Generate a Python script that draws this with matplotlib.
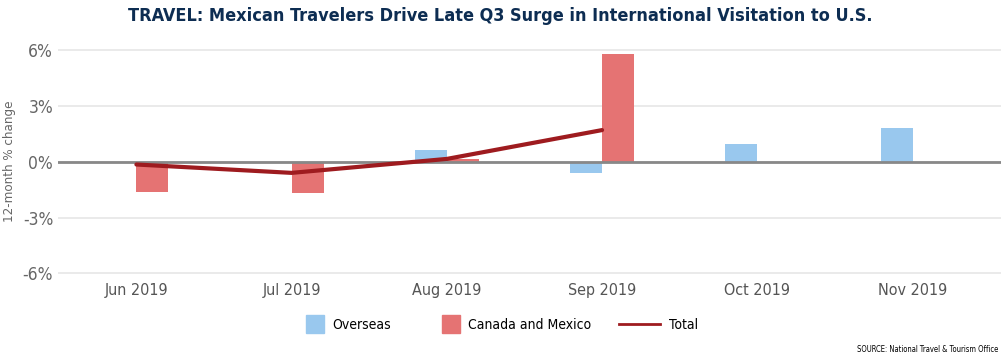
import numpy as np
import matplotlib
matplotlib.use('Agg')
import matplotlib.pyplot as plt
from matplotlib.patches import Patch, Rectangle
from matplotlib.lines import Line2D
from matplotlib.legend_handler import HandlerPatch

months = ['Jun 2019', 'Jul 2019', 'Aug 2019', 'Sep 2019', 'Oct 2019', 'Nov 2019']
overseas = [0.0, 0.0, 0.63, -0.61, 0.97, 1.80]
canada_mexico = [-1.61, -1.67, 0.16, 5.77, 0.0, 0.0]
total = [-0.15, -0.60, 0.15, 1.70]

c_over = '#99C8EE'
c_can = '#E57373'
c_tot = '#9E1B1F'
c_txt = '#666666'

plt.rcParams['font.family'] = ['DejaVu Sans']
plt.rcParams['font.stretch'] = 'condensed'

fig = plt.figure(figsize=(10.01, 3.61), dpi=100)
ax = fig.add_axes([58 / 1001, 0.2274, 1 - 58 / 1001, 0.8767 - 0.2274])

x = np.arange(len(months))
w = 0.206
ax.bar(x - w / 2, overseas, width=w, color=c_over, zorder=2)
ax.bar(x + w / 2, canada_mexico, width=w, color=c_can, zorder=2)
ax.axhline(0, color='#888888', lw=2, zorder=3)
ax.plot(x[:len(total)], total, color=c_tot, lw=3, solid_capstyle='round', zorder=4)

ax.set_xlim(-0.505, 5.57)
ax.set_ylim(-6.3, 6.3)
ax.set_yticks([-6, -3, 0, 3, 6])
ax.set_yticklabels(['-6%', '-3%', '0%', '3%', '6%'])
ax.set_xticks(x)
ax.set_xticklabels(months)
ax.tick_params(axis='y', length=0, labelsize=12.5, labelcolor=c_txt, pad=3.5)
ax.tick_params(axis='x', length=0, labelsize=11.5, labelcolor='#555555', pad=3)
ax.grid(axis='y', color='#e6e6e6', lw=1.2, zorder=0)
for s in ax.spines.values():
    s.set_visible(False)
ax.set_ylabel('12-month % change', fontsize=9.5, color=c_txt, labelpad=5)

fig.text(0.5, 0.955, 'TRAVEL: Mexican Travelers Drive Late Q3 Surge in International Visitation to U.S.',
         ha='center', va='center', fontsize=13, fontweight='bold', color='#0D2D52')


def square(legend, orig_handle, xdescent, ydescent, width, height, fontsize):
    s = 1.3 * fontsize
    return Rectangle((width - s - xdescent, height / 2 - s / 2 - ydescent), s, s)


handles = [Patch(color=c_over, label='Overseas'),
           Patch(color=c_can, label='Canada and Mexico'),
           Line2D([], [], color=c_tot, lw=2, label='Total')]
fig.legend(handles=handles, loc='center', bbox_to_anchor=(0.49, 0.1), ncol=3, frameon=False,
           fontsize=10, handlelength=2.95, columnspacing=2.0, handletextpad=0.6,
           handler_map={Patch: HandlerPatch(patch_func=square)})

fig.text(0.997, 0.02, 'SOURCE: National Travel & Tourism Office', ha='right', va='bottom',
         fontsize=5.5, color='black')

fig.savefig('out.png', dpi=100)
